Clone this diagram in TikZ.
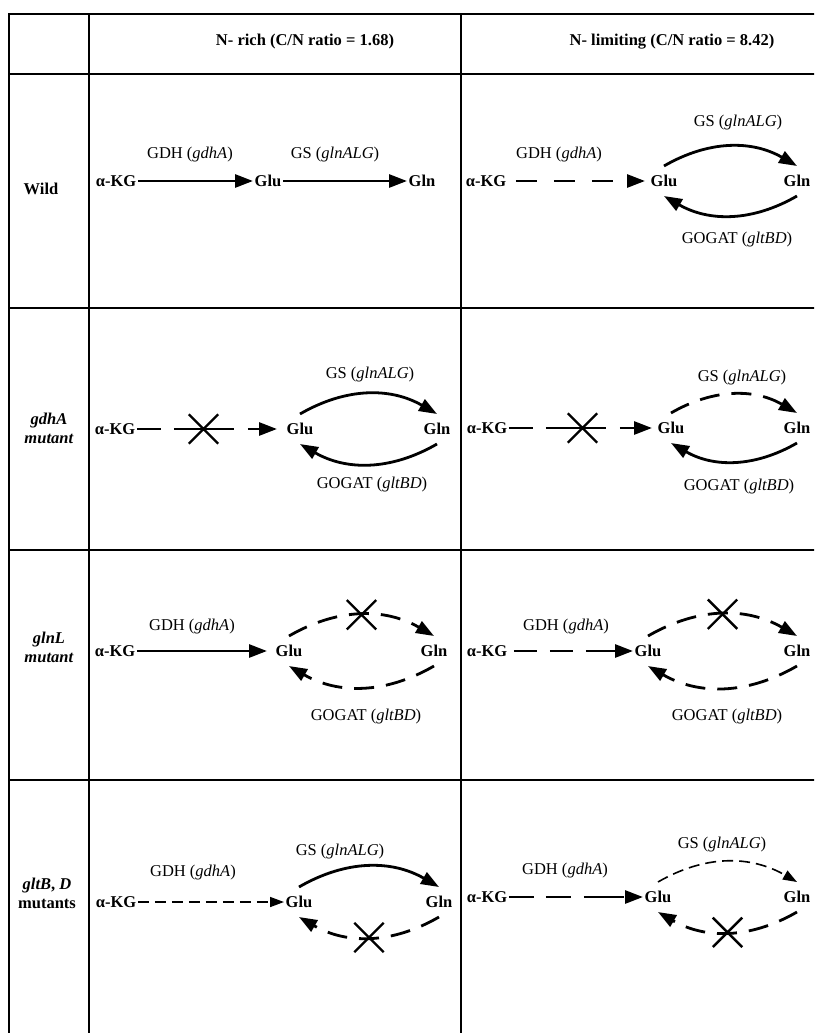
\documentclass[tikz,border=0pt]{standalone}
\usepackage{fontspec}
\setmainfont{Liberation Serif}
\usetikzlibrary{arrows.meta,shapes.misc}
\newcommand{\cellfont}{\fontsize{16.5}{19}\selectfont}

\begin{document}
\begin{tikzpicture}[x=1pt,y=1pt,
  met/.style={font=\cellfont\bfseries, inner xsep=1.5pt, inner ysep=9pt},
  enz/.style={font=\cellfont, inner sep=0pt},
  head/.style={font=\cellfont\bfseries, align=center, inner sep=0pt},
  flux/.style={line width=2.8pt, -{Triangle[length=18pt,width=13pt]}},
  slow/.style={flux, dash pattern=on 20pt off 12pt},
  trace/.style={line width=1.6pt, dash pattern=on 11pt off 6pt, -{Triangle[length=14pt,width=10pt]}},
  ko/.style={-, solid, shorten >=0pt, shorten <=0pt, cross out, draw, line width=2.4pt, minimum size=27pt, inner sep=0pt},
  grid/.style={line width=1.5pt}]
\useasboundingbox (0,0) rectangle (814,-1033);
\clip (0,0) rectangle (814,-1033);

%Table
\draw[grid] (9,-1040) -- (9,-14) -- (820,-14);
\draw[grid] (89,-14) -- (89,-1040);
\draw[grid] (461,-14) -- (461,-1040);
\foreach \y in {74,308,550,780} \draw[grid] (9,-\y) -- (820,-\y);

% Headers
\node[head] (hrich) at (305,-42) {N- rich (C/N ratio = 1.68)};
\node[head] (hlim) at (672,-42) {N- limiting (C/N ratio = 8.42)};
\node[head] (wild) at (41,-189) {Wild};
\node[head] (mgdh) at (49,-428) {\textit{gdhA}\\\textit{mutant}};
\node[head] (mgln) at (49,-647) {\textit{glnL}\\\textit{mutant}};
\node[head] (mglt) at (47,-893) {\textit{gltB}, \textit{D}\\mutants};

% Wild
\node[met] (lk1) at (116,-181) {α-KG};
\node[met] (lu1) at (268,-181) {Glu};
\node[met] (ln1) at (422,-181) {Gln};
\node[enz] (lgdh1) at (190,-155) {GDH (\textit{gdhA})};
\node[enz] (lgs1) at (335,-155) {GS (\textit{glnALG})};
\node[met] (rk1) at (486,-181) {α-KG};
\node[met] (ru1) at (664,-181) {Glu};
\node[met] (rn1) at (797,-181) {Gln};
\node[enz] (rgdh1) at (559,-155) {GDH (\textit{gdhA})};
\node[enz] (rgs1) at (738,-123) {GS (\textit{glnALG})};
\node[enz] (rgogat1) at (737,-240) {GOGAT (\textit{gltBD})};
\draw[flux] (lk1) -- (lu1);
\draw[flux] (lu1) -- (ln1);
\draw[flux, dash pattern=on 21pt off 17pt, shorten <=8pt, shorten >=4pt] (rk1) -- (ru1);
\draw[flux] (ru1.north) to[bend left=30] (rn1.north);
\draw[flux] (rn1.south) to[bend left=30] (ru1.south);

% gdhA mutant
\node[met] (lk2) at (115,-429) {α-KG};
\node[met] (lu2) at (300,-429) {Glu};
\node[met] (ln2) at (437,-429) {Gln};
\node[enz] (lgs2) at (370,-375) {GS (\textit{glnALG})};
\node[enz] (lgogat2) at (372,-485) {GOGAT (\textit{gltBD})};
\node[met] (rk2) at (487,-428) {α-KG};
\node[met] (ru2) at (671,-428) {Glu};
\node[met] (rn2) at (797,-428) {Gln};
\node[enz] (rgs2) at (742,-378) {GS (\textit{glnALG})};
\node[enz] (rgogat2) at (739,-487) {GOGAT (\textit{gltBD})};
\draw[flux, dash pattern=on 24pt off 13pt on 60pt off 14pt on 40pt, shorten >=8pt] (lk2) -- node[ko, pos=0.45] {} (lu2);
\draw[flux] (lu2.north) to[bend left=30] (ln2.north);
\draw[flux] (ln2.south) to[bend left=30] (lu2.south);
\draw[flux, dash pattern=on 24pt off 13pt on 60pt off 14pt on 40pt, shorten >=4pt] (rk2) -- node[ko, pos=0.5] {} (ru2);
\draw[slow] (ru2.north) to[bend left=30] (rn2.north);
\draw[flux] (rn2.south) to[bend left=30] (ru2.south);

% glnL mutant
\node[met] (lk3) at (115,-651) {α-KG};
\node[met] (lu3) at (289,-651) {Glu};
\node[met] (ln3) at (434,-651) {Gln};
\node[enz] (lgdh3) at (192,-627) {GDH (\textit{gdhA})};
\node[enz] (lgogat3) at (366,-717) {GOGAT (\textit{gltBD})};
\node[met] (rk3) at (487,-651) {α-KG};
\node[met] (ru3) at (648,-651) {Glu};
\node[met] (rn3) at (797,-651) {Gln};
\node[enz] (rgdh3) at (566,-627) {GDH (\textit{gdhA})};
\node[enz] (rgogat3) at (727,-717) {GOGAT (\textit{gltBD})};
\draw[flux, shorten >=7pt] (lk3) -- (lu3);
\draw[slow] (lu3.north) to[bend left=30] node[ko] {} (ln3.north);
\draw[slow] (ln3.south) to[bend left=30] (lu3.south);
\draw[flux, dash pattern=on 23pt off 13pt on 23pt off 13pt on 40pt, shorten <=5pt] (rk3) -- (ru3);
\draw[slow] (ru3.north) to[bend left=30] node[ko] {} (rn3.north);
\draw[slow] (rn3.south) to[bend left=30] (ru3.south);

% gltB, D mutants
\node[met] (lk4) at (116,-902) {α-KG};
\node[met] (lu4) at (299,-902) {Glu};
\node[met] (ln4) at (439,-902) {Gln};
\node[enz] (lgdh4) at (193,-873) {GDH (\textit{gdhA})};
\node[enz] (lgs4) at (340,-852) {GS (\textit{glnALG})};
\node[met] (rk4) at (487,-897) {α-KG};
\node[met] (ru4) at (658,-897) {Glu};
\node[met] (rn4) at (797,-897) {Gln};
\node[enz] (rgdh4) at (565,-871) {GDH (\textit{gdhA})};
\node[enz] (rgs4) at (722,-845) {GS (\textit{glnALG})};
\draw[trace] (lk4) -- (lu4);
\draw[flux] (lu4.north) to[bend left=30] (ln4.north);
\draw[slow] (ln4.south) to[bend left=30] node[ko] {} (lu4.south);
\draw[flux, dash pattern=on 25pt off 12pt on 25pt off 13pt on 40pt] (rk4) -- (ru4);
\draw[trace] (ru4.north) to[bend left=30] (rn4.north);
\draw[slow] (rn4.south) to[bend left=30] node[ko] {} (ru4.south);
\end{tikzpicture}
\end{document}
